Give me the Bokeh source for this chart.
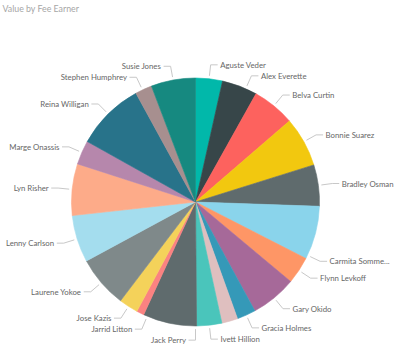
import math
from bokeh.plotting import figure
from bokeh.models import Range1d, ColumnDataSource
from bokeh.core.properties import value
from bokeh.embed import file_html
from bokeh.resources import INLINE

# ---- data -------------------------------------------------------------
title_text = "Value by Fee Earner"
fee_earners = ["Aguste Veder", "Alex Everette", "Belva Curtin", "Bonnie Suarez",
               "Bradley Osman", "Carmita Somme...", "Flynn Levkoff", "Gary Okido",
               "Gracia Holmes", None, "Ivett Hillion", "Jack Perry", "Jarrid Litton",
               "Jose Kazis", "Laurene Yokoe", "Lenny Carlson", "Lyn Risher",
               "Marge Onassis", "Reina Willigan", "Stephen Humphrey", "Susie Jones"]
fee_values = [126, 166, 200, 234, 194, 251, 128, 215, 88, 75, 118, 252, 35, 90,
              244, 221, 242, 113, 321, 79, 208]
slice_colors = ["#01B8AA", "#374649", "#FD625E", "#F2C80F", "#5F6B6D", "#8AD4EB",
                "#FE9666", "#A66999", "#3599B8", "#DFBFBF", "#4AC5BB", "#5F6B6D",
                "#FB8281", "#F4D25A", "#7F898A", "#A4DDEE", "#FDAB89", "#B687AC",
                "#28738A", "#A78F8F", "#168980"]

# ---- layout -----------------------------------------------------------
W, H = 395, 346
CX, CY = 195.0, H - 201.5     # pie centre (data units == pixels)
R = 124
R_START, R_ELBOW = 127, 138
SEG, GAP = 7, 2.5
MIN_SPACE = 11.0
FONT_PX = 7.8
CHAR_W = 0.52                 # approx. average glyph width (em)
LABEL_FONT = "Lato"

p = figure(width=W, height=H, x_range=Range1d(0, W), y_range=Range1d(0, H),
           output_backend="svg", toolbar_location=None, min_border=0,
           x_axis_type=None, y_axis_type=None)
p.grid.visible = False
p.outline_line_color = None
p.background_fill_color = "white"
p.border_fill_color = "white"

total = float(sum(fee_values))
starts, ends, mids = [], [], []
cum = 0.0
for v in fee_values:
    t0 = 2 * math.pi * cum / total
    cum += v
    t1 = 2 * math.pi * cum / total
    starts.append(math.pi / 2 - t0)
    ends.append(math.pi / 2 - t1)
    mids.append((t0 + t1) / 2)

src = ColumnDataSource(dict(start=starts, end=ends, color=slice_colors))
p.wedge(x=CX, y=CY, radius=R, start_angle="start", end_angle="end",
        direction="clock", fill_color="color", line_color="color",
        line_width=0.6, source=src)

# ---- labels: slide along the circle if the text would overflow ---------
items = []
for name, th in zip(fee_earners, mids):
    if name is None:
        continue
    side = 1 if math.sin(th) >= 0 else -1
    dy = R_ELBOW * math.cos(th)   # upwards offset
    dx = abs(R_ELBOW * math.sin(th))
    tw = len(name) * CHAR_W * FONT_PX
    room = (W - 1 - CX if side == 1 else CX - 1) - SEG - GAP - tw
    if dx > room:
        dy = math.copysign(math.sqrt(max(R_ELBOW ** 2 - room ** 2, 0.0)), dy)
    items.append(dict(name=name, side=side, dy=dy))

for side in (1, -1):
    grp = sorted([it for it in items if it["side"] == side], key=lambda d: -d["dy"])
    for i in range(1, len(grp)):
        if grp[i - 1]["dy"] - grp[i]["dy"] < MIN_SPACE:
            grp[i]["dy"] = grp[i - 1]["dy"] - MIN_SPACE

xs, ys = [], []
lab = {1: dict(x=[], y=[], text=[]), -1: dict(x=[], y=[], text=[])}
for it in items:
    dy = it["dy"]
    dx = math.sqrt(max(R_ELBOW ** 2 - dy ** 2, 0.0)) * it["side"]
    ex, ey = CX + dx, CY + dy
    sx, sy = CX + dx * R_START / R_ELBOW, CY + dy * R_START / R_ELBOW
    hx = ex + SEG * it["side"]
    xs.append([sx, ex, hx])
    ys.append([sy, ey, ey])
    lab[it["side"]]["x"].append(hx + GAP * it["side"])
    lab[it["side"]]["y"].append(ey)
    lab[it["side"]]["text"].append(it["name"])

p.multi_line(xs=xs, ys=ys, line_color="#c8c8c8", line_width=1)

for side, align in ((1, "left"), (-1, "right")):
    p.text(x="x", y="y", text="text", source=ColumnDataSource(lab[side]),
           text_align=align, text_baseline="middle",
           text_font=value(LABEL_FONT), text_font_size=f"{FONT_PX}px",
           text_color="#666666")

p.text(x=[2], y=[H - 2.5], text=[title_text], text_align="left",
       text_baseline="top", text_font=value("Lato"),
       text_font_size="8.8px", text_color="#a6a6a6")

open("out.html", "w").write(file_html(p, INLINE))
